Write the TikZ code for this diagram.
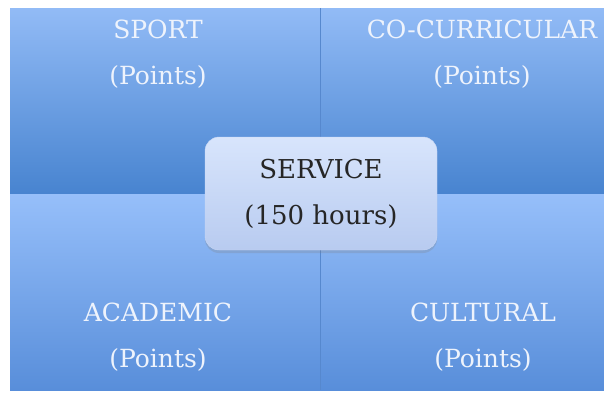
\documentclass[tikz,border=0pt]{standalone}
\usepackage{fontspec}
\setmainfont{DejaVu Serif}
\usetikzlibrary{shadows}

\definecolor{quadtop}{RGB}{146,187,246}
\definecolor{quadmid}{RGB}{120,167,236}
\definecolor{quaddark}{RGB}{72,132,208}
\definecolor{lowtop}{RGB}{150,191,250}
\definecolor{lowdark}{RGB}{88,142,218}
\definecolor{divline}{RGB}{86,136,206}
\definecolor{boxtop}{RGB}{216,229,252}
\definecolor{boxbot}{RGB}{184,203,240}
\definecolor{boxedge}{RGB}{200,215,244}
\definecolor{labelwhite}{RGB}{238,243,252}

\begin{document}
\begin{tikzpicture}[x=1pt,y=-1pt,
    quadtext/.style={align=center,text=labelwhite,font=\fontsize{25}{46}\selectfont},
    centerbox/.style={align=center,text=black!85,font=\fontsize{26}{46}\selectfont,
        minimum width=232pt,minimum height=113pt,rounded corners=14pt,
        draw=boxedge,top color=boxtop,bottom color=boxbot,
        drop shadow={opacity=0.25,shadow xshift=0pt,shadow yshift=-3pt}}]
    \fill [white] (0,0) rectangle (604,394);
    \useasboundingbox (0,0) rectangle (604,394);
    % four quadrants
    \shade [top color=quadtop, middle color=quadmid, bottom color=quaddark] (10,8) rectangle (320,193);
    \shade [top color=quadtop, middle color=quadmid, bottom color=quaddark] (320,8) rectangle (604,193);
    \shade [top color=lowtop, bottom color=lowdark] (10,194) rectangle (320,390);
    \shade [top color=lowtop, bottom color=lowdark] (320,194) rectangle (604,390);
    \draw [divline, line width=1pt] (320,8) -- (320,390);
    % labels
    \node [quadtext] (sport) at (158,54) {SPORT\\(Points)};
    \node [quadtext] (cocurr) at (482,54) {CO-CURRICULAR\\(Points)};
    \node [quadtext] (academic) at (158,337) {ACADEMIC\\(Points)};
    \node [quadtext] (cultural) at (483,337) {CULTURAL\\(Points)};
    \node [centerbox] (service) at (321,193.5) {SERVICE\\(150 hours)};
\end{tikzpicture}
\end{document}
